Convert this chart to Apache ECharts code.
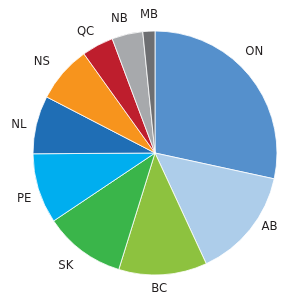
<!DOCTYPE html>
<html>
<head>
<meta charset="utf-8">
<script src="https://cdn.jsdelivr.net/npm/echarts@6/dist/echarts.min.js"></script>
<style>html,body{margin:0;padding:0;background:#fff}#c{width:300px;height:305px}</style>
</head>
<body>
<div id="c"></div>
<script>
var categories = ['ON','AB','BC','SK','PE','NL','NS','QC','NB','MB'];
var values = [28.4, 14.7, 11.7, 10.8, 9.3, 7.7, 7.5, 4.2, 4.1, 1.6];
var colors = ['#5590CC','#ADCDEA','#8DC23F','#3AB54A','#00AEEF','#1F6EB5','#F7941D','#BE1E2D','#A7A9AC','#6D6E71'];

// small label nudges (label styling only)
var labelNudge = {ON:[-9,-14], AB:[6,-13], BC:[-5,-3], SK:[-6,1], PE:[2,5], NL:[-1,4], NS:[-8,0], QC:[-4,1], NB:[-4,1], MB:[1,0]};

var data = categories.map(function(c, i){ return {name: c, value: values[i], itemStyle: {color: colors[i]}}; });
var labelData = categories.map(function(c, i){ return {name: c, value: values[i], label: {offset: labelNudge[c]}}; });

var chart = echarts.init(document.getElementById('c'), null, {renderer: 'canvas'});
chart.setOption({
  animation: false,
  series: [
    {
      type: 'pie',
      center: [155, 153],
      radius: [0, 122],
      startAngle: 90,
      clockwise: true,
      label: {show: false},
      labelLine: {show: false},
      itemStyle: {borderColor: '#ffffff', borderWidth: 0.8},
      data: data
    },
    {
      type: 'pie',
      center: [155, 153],
      radius: [129, 143],
      startAngle: 90,
      clockwise: true,
      silent: true,
      itemStyle: {color: 'rgba(0,0,0,0)'},
      label: {show: true, position: 'inside', color: '#231F20', fontSize: 13,
              fontFamily: '"Liberation Sans Narrow", "DejaVu Sans Condensed", sans-serif', formatter: '{b}'},
      labelLine: {show: false},
      data: labelData
    }
  ]
});
</script>
</body>
</html>
